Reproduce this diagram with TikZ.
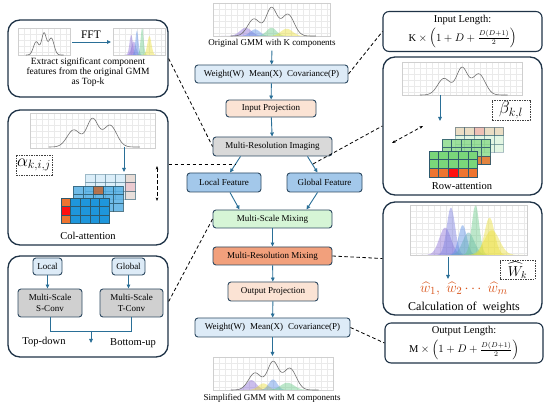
\documentclass[tikz,border=0pt]{standalone}
\usepackage{fontspec}
\setmainfont{Liberation Serif}
\usepackage{amsmath}
\usetikzlibrary{arrows.meta,calc}

\definecolor{bline}{HTML}{2E4A62}
\definecolor{pline}{HTML}{1F3347}
\definecolor{arrc}{HTML}{2A6F97}
\definecolor{wfill}{HTML}{DDEBF7}
\definecolor{ffill}{HTML}{A3C8EA}
\definecolor{pfill}{HTML}{FBE3D4}
\definecolor{gfill}{HTML}{D9D9D9}
\definecolor{mfill}{HTML}{D6F5D6}
\definecolor{ofill}{HTML}{F2A07C}
\definecolor{cfill}{HTML}{D0D0D0}
\definecolor{gridc}{HTML}{EAEAEA}
\definecolor{curvec}{HTML}{707070}
\definecolor{cpur}{HTML}{8C6FD8}
\definecolor{cblu}{HTML}{5A8FE6}
\definecolor{cgrn}{HTML}{6CCB8A}
\definecolor{cyel}{HTML}{EBDF3A}
\definecolor{wcol}{HTML}{D9541A}
\definecolor{cellb}{HTML}{1E96DC}
\definecolor{cellg}{HTML}{7AD67A}
\definecolor{cello}{HTML}{EE7430}
\definecolor{cellr}{HTML}{FF1010}
\definecolor{celld}{HTML}{2E5A6E}

% gaussian peak: x0, ybottom, W, H, mean, sigma, height, colour
\newcommand\gpk[8]{\fill[#8,opacity=0.45] plot[domain=#5-3*#6:#5+3*#6,samples=30] ({#1+#3*\x},{#2-#4*#7*gs(\x,#5,#6)}) -- cycle;}
% plot background: x0, ytop, W, H
\newcommand\pbg[4]{%
  \foreach \gx in {6,12,...,#3}{\draw[gridc,line width=0.35pt] ({#1+\gx},#2) -- ++(0,#4);}%
  \foreach \gy in {6,12,...,#4}{\draw[gridc,line width=0.35pt] (#1,{#2+\gy}) -- ++(#3,0);}%
  \draw[gridc!75!gray,line width=0.4pt] (#1,#2) rectangle (#1+#3,#2+#4);}
% grey mixture curve: x0, ybottom, W, H
\newcommand\gcurve[4]{\draw[curvec,line width=0.6pt] plot[domain=0.15:0.88,samples=80,smooth] ({#1+#3*\x},{#2-#4*gm(\x)});}
% 5x3 cell layer: x0, y0, cw, ch, fill, opacity
\newcommand\celllayer[6]{\foreach \i in {0,...,4}{\foreach \j in {0,...,2}{%
  \filldraw[fill=#5,draw=celld,opacity=#6,line width=0.6pt] ({#1+\i*#3},{#2+\j*#4}) rectangle ++(#3,#4);}}}
% one cell: x0, y0, cw, ch, i, j, fill, opacity
\newcommand\onecell[8]{\filldraw[fill=#7,draw=celld,opacity=#8,line width=0.6pt] ({#1+(#5)*#3},{#2+(#6)*#4}) rectangle ++(#3,#4);}

\tikzset{
  box/.style={draw=bline, line width=0.9pt, rounded corners=3pt, font=\fontsize{9}{10.5}\selectfont, inner sep=1pt, align=center},
  panel/.style={draw=pline, line width=1.3pt, rounded corners=12pt, fill=white},
  lbox/.style={draw=pline, line width=1.1pt, rounded corners=6pt, fill=white, align=center, font=\fontsize{10.5}{12}\selectfont},
  arr/.style={arrc, line width=0.9pt, -{Triangle[length=4pt,width=3.6pt]}},
  dsh/.style={black, line width=0.8pt, dash pattern=on 3.5pt off 2.5pt},
  dbox/.style={draw=darkgray, line width=0.6pt, dash pattern=on 1.5pt off 1pt, inner sep=1pt},
  lbl/.style={font=\fontsize{10.5}{12}\selectfont},
  ftext/.style={font=\fontsize{9}{10.5}\selectfont}
}

\begin{document}
\begin{tikzpicture}[x=1pt,y=-1pt,
  declare function={gs(\t,\m,\s)=exp(-((\t-\m)/\s)*((\t-\m)/\s));
                    gm(\t)=0.55*gs(\t,0.35,0.075)+0.9*gs(\t,0.5,0.065)+0.7*gs(\t,0.64,0.075);}]
\fill[white] (0,0) rectangle (550,406);
\useasboundingbox (0,0) rectangle (550,406);

% ---------- panels ----------
\node[panel, minimum width=160pt, minimum height=77pt] (p1) at (88,58.5) {};
\node[panel, minimum width=160pt, minimum height=135pt] (p2) at (88,177.5) {};
\node[panel, minimum width=160pt, minimum height=101pt] (p4) at (88,306.5) {};
\node[panel, minimum width=159pt, minimum height=138pt] (p3) at (462.5,126) {};
\node[panel, minimum width=159pt, minimum height=113pt] (p5) at (462.5,258.5) {};
\node[lbox, minimum width=159pt, minimum height=37pt] (inl) at (462.5,31.5)
  {Input Length:\\[3pt] $\mathrm{K}\times\left(1+D+\frac{D(D+1)}{2}\right)$};
\node[lbox, minimum width=158pt, minimum height=38pt] (outl) at (464,343)
  {Output Length:\\[3pt] $\mathrm{M}\times\left(1+D+\frac{D(D+1)}{2}\right)$};

% ---------- central column ----------
\pbg{213}{3}{117}{33}
\gpk{213}{36}{117}{33}{0.28}{0.07}{0.25}{cpur}
\gpk{213}{36}{117}{33}{0.36}{0.06}{0.2}{cblu}
\gpk{213}{36}{117}{33}{0.5}{0.06}{0.25}{cgrn}
\gpk{213}{36}{117}{33}{0.63}{0.07}{0.22}{cyel}
\gcurve{213}{36}{117}{31}
\node[ftext] (t1) at (272,43) {Original GMM with K components};

\node[box, fill=wfill, minimum width=153pt, minimum height=18pt] (w1) at (271.5,74) {Weight(W)\hspace{5pt}Mean(X)\hspace{5pt}Covariance(P)};
\node[box, fill=pfill, minimum width=90pt, minimum height=17pt] (ip) at (271,108.5) {Input Projection};
\node[box, fill=gfill, minimum width=119pt, minimum height=19pt] (mri) at (272.5,146.5) {Multi-Resolution Imaging};
\node[box, fill=ffill, minimum width=74pt, minimum height=19pt] (lf) at (224,182.5) {Local Feature};
\node[box, fill=ffill, minimum width=75pt, minimum height=19pt] (gf) at (324.5,182.5) {Global Feature};
\node[box, fill=mfill, minimum width=119pt, minimum height=18pt] (msm) at (272.5,219) {Multi-Scale Mixing};
\node[box, fill=ofill, minimum width=119pt, minimum height=18pt] (mrm) at (272.5,256) {Multi-Resolution Mixing};
\node[box, fill=pfill, minimum width=90pt, minimum height=19pt] (op) at (273,291.5) {Output Projection};
\node[box, fill=wfill, minimum width=155pt, minimum height=19pt] (w2) at (272.5,327.5) {Weight(W)\hspace{5pt}Mean(X)\hspace{5pt}Covariance(P)};

\pbg{213}{357}{120}{33}
\gpk{213}{390}{120}{33}{0.32}{0.06}{0.3}{cpur}
\gpk{213}{390}{120}{33}{0.42}{0.06}{0.2}{cyel}
\gpk{213}{390}{120}{33}{0.5}{0.05}{0.32}{cblu}
\gpk{213}{390}{120}{33}{0.62}{0.08}{0.22}{cgrn}
\gcurve{213}{390}{120}{31}
\node[ftext] (t2) at (272,398) {Simplified GMM with M components};
\coordinate (pb) at (272.5,356);

\draw[arr] (t1) -- (w1);
\draw[arr] (w1) -- (ip);
\draw[arr] (ip) -- (mri);
\draw[arr] ([xshift=-32pt]mri.south) -- ([xshift=6pt]lf.north);
\draw[arr] ([xshift=35pt]mri.south) -- ([xshift=-7pt]gf.north);
\draw[arr] ([xshift=6pt]lf.south) -- ([xshift=-33pt]msm.north);
\draw[arr] ([xshift=-7pt]gf.south) -- ([xshift=34pt]msm.north);
\draw[arr] (msm) -- (mrm);
\draw[arr] (mrm) -- (op);
\draw[arr] (op) -- (w2);
\draw[arr] (w2) -- (pb);

% ---------- panel 1: FFT ----------
\pbg{18}{28}{52}{27}
\gcurve{18}{55}{52}{24}
\pbg{113}{28}{52}{27}
\gpk{113}{55}{52}{27}{0.4}{0.06}{0.5}{cpur}
\gpk{113}{55}{52}{27}{0.35}{0.045}{0.75}{cpur}
\gpk{113}{55}{52}{27}{0.46}{0.04}{0.9}{cblu}
\gpk{113}{55}{52}{27}{0.56}{0.04}{1.0}{cgrn}
\gpk{113}{55}{52}{27}{0.7}{0.055}{0.7}{cyel}
\coordinate (fa) at (72,42);
\coordinate (fb) at (111,42);
\draw[arr] (fa) -- (fb);
\node[font=\fontsize{11.5}{13}\selectfont] (fft) at (91,35) {FFT};
\node[align=center, font=\fontsize{9.5}{10}\selectfont] (p1t) at (88,72.5)
  {Extract significant component\\features from the original GMM\\as Top-k};

% ---------- panel 2: column attention ----------
\pbg{30}{113}{125}{35}
\gcurve{30}{147}{125}{31}
\node[dbox, minimum width=36pt, minimum height=20pt, font=\fontsize{16.5}{17}\selectfont] (al) at (34,165) {$\alpha_{k,i,j}$};
\celllayer{85}{174}{10}{8.5}{cellb!45}{0.35}
\onecell{85}{174}{10}{8.5}{4}{0}{cello!40}{0.45}
\onecell{85}{174}{10}{8.5}{4}{1}{cellr!40}{0.45}
\onecell{85}{174}{10}{8.5}{4}{2}{cello!35}{0.45}
\celllayer{73}{186}{10}{8.5}{cellb!80}{0.8}
\onecell{73}{186}{10}{8.5}{2}{0}{cello!85!black}{0.8}
\celllayer{61}{198}{9.6}{8.5}{cellb}{1}
\onecell{61}{198}{9.6}{8.5}{0}{0}{cello}{1}
\onecell{61}{198}{9.6}{8.5}{0}{1}{cellr}{1}
\onecell{61}{198}{9.6}{8.5}{0}{2}{cello}{1}
\coordinate (ca1) at (124,147);
\coordinate (ca2) at (124,172);
\draw[arr] (ca1) -- (ca2);
\coordinate (cd1) at (157,166);
\coordinate (cd2) at (157,201);
\draw[dsh, {Stealth[length=3.5pt]}-{Stealth[length=3.5pt]}] (cd1) -- (cd2);
\node[lbl] (colt) at (88,236) {Col-attention};

% ---------- panel 4: local/global conv ----------
\node[box, fill=wfill, minimum width=29pt, minimum height=17pt] (loc) at (47.5,266.5) {Local};
\node[box, fill=wfill, minimum width=33pt, minimum height=17pt] (glo) at (128.5,266.5) {Global};
\node[box, fill=cfill, minimum width=64pt, minimum height=28pt] (sc) at (50,303) {Multi-Scale\\S-Conv};
\node[box, fill=cfill, minimum width=63pt, minimum height=28pt] (tc) at (131.5,303) {Multi-Scale\\T-Conv};
\draw[arr] (loc) -- (loc |- sc.north);
\draw[arr] (glo) -- (glo |- tc.north);
\coordinate (m4) at (91,331);
\coordinate (m5) at (91,343);
\draw[arrc, line width=0.9pt] (sc.south) -- (sc.south |- m4) -- (tc.south |- m4) -- (tc.south);
\draw[arr] (m4) -- (m5);
\node[lbl] (td) at (44,342) {Top-down};
\node[lbl] (bu) at (133,343) {Bottom-up};

% ---------- panel 3: row attention ----------
\pbg{402}{62}{120}{33}
\gcurve{402}{95}{120}{30}
\node[dbox, minimum width=38pt, minimum height=20pt, font=\fontsize{16.5}{17}\selectfont] (be) at (511,110) {$\beta_{k,l}$};
\celllayer{455}{127}{9.7}{8.5}{cellg!60}{0.35}
\onecell{455}{127}{9.7}{8.5}{0}{0}{cello!50}{0.4}
\onecell{455}{127}{9.7}{8.5}{1}{0}{cello!50}{0.4}
\onecell{455}{127}{9.7}{8.5}{2}{0}{cellr!60}{0.4}
\onecell{455}{127}{9.7}{8.5}{3}{0}{cello!50}{0.4}
\onecell{455}{127}{9.7}{8.5}{4}{0}{cello!50}{0.4}
\celllayer{442}{139}{9.7}{8.5}{cellg!85}{0.85}
\foreach \k in {0,...,4}{\onecell{442}{139}{9.7}{8.5}{\k}{2}{cello}{0.85}}
\onecell{442}{139}{9.7}{8.5}{2}{2}{cellr}{0.85}
\celllayer{429}{151}{9.7}{8.8}{cellg}{1}
\foreach \k in {0,...,4}{\onecell{429}{151}{9.7}{8.8}{\k}{2}{cello}{1}}
\onecell{429}{151}{9.7}{8.8}{2}{2}{cellr}{1}
\coordinate (ra1) at (440,95);
\coordinate (ra2) at (440,121);
\draw[arr] (ra1) -- (ra2);
\coordinate (rd1) at (392,143);
\coordinate (rd2) at (423,126);
\draw[dsh, {Stealth[length=3.5pt]}-{Stealth[length=3.5pt]}] (rd1) -- (rd2);
\node[lbl] (rowt) at (462,186) {Row-attention};

% ---------- panel 5: weights ----------
\pbg{410}{205}{117}{50}
\gpk{410}{255}{117}{50}{0.3}{0.07}{0.55}{cpur}
\gpk{410}{255}{117}{50}{0.35}{0.05}{0.95}{cpur!60!cblu}
\gpk{410}{255}{117}{50}{0.45}{0.05}{0.6}{cblu}
\gpk{410}{255}{117}{50}{0.5}{0.07}{0.45}{cblu!50!cgrn}
\gpk{410}{255}{117}{50}{0.56}{0.045}{1.0}{cgrn}
\gpk{410}{255}{117}{50}{0.68}{0.06}{0.75}{cyel}
\gpk{410}{255}{117}{50}{0.7}{0.09}{0.5}{cyel}
\node[dbox, minimum width=35pt, minimum height=17pt, font=\fontsize{14}{15}\selectfont] (wk) at (517.5,270) {$\widehat{W}_k$};
\coordinate (wa1) at (448,257);
\coordinate (wa2) at (448,279);
\draw[arr] (wa1) -- (wa2);
\node[text=wcol, font=\fontsize{15}{16}\selectfont, inner sep=0pt] (wh) at (464,289) {$\widehat{w}_1,\ \widehat{w}_2\cdots\ \widehat{w}_m$};
\node[font=\fontsize{12}{13}\selectfont, inner sep=0pt] (calc) at (464,307.5) {Calculation of\ \ weights};

% ---------- dashed connectors ----------
\coordinate (j1) at (235.5,164);
\coordinate (j2) at (313,164);
\draw[dsh] (p1.east) -- (mri.west);
\draw[dsh] (w1.east) -- (inl.west);
\draw[dsh] (p2.east |- j1) -- (j1);
\draw[dsh] (j2) -- (p3.west);
\draw[dsh] (msm.west) -- ([yshift=5pt]p4.east);
\draw[dsh] (mrm.east) -- (p5.west);
\draw[dsh] (w2.east) -- (outl.west);
\end{tikzpicture}
\end{document}
